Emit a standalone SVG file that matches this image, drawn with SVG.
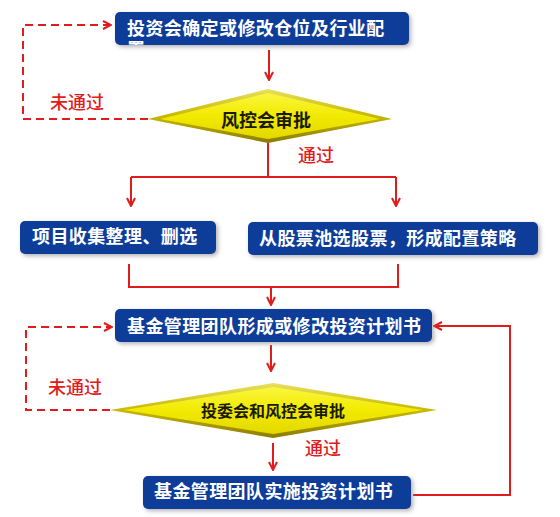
<svg xmlns="http://www.w3.org/2000/svg" width="560" height="517" viewBox="0 0 560 517">
<style>
.box{fill:#0a3c98;}
.bt{font-family:"Noto Sans CJK SC","Noto Sans",sans-serif;font-weight:bold;font-size:18px;fill:#ffffff;letter-spacing:0.4px;}
.dt{font-family:"Noto Sans CJK SC","Noto Sans",sans-serif;font-weight:bold;fill:#1a1a00;}
.lbl{font-family:"Noto Sans CJK SC","Noto Sans",sans-serif;font-weight:500;font-size:18px;fill:#e01c1c;}
.ln{fill:none;stroke:#e01c1c;stroke-width:2;}
.dash{stroke-dasharray:8 5;}
</style>
<defs>
<filter id="sh" x="-10%" y="-30%" width="120%" height="160%">
<feGaussianBlur in="SourceAlpha" stdDeviation="2"/>
<feOffset dx="2" dy="2" result="b"/>
<feFlood flood-color="#808080" flood-opacity="0.6"/>
<feComposite in2="b" operator="in"/>
<feMerge><feMergeNode/><feMergeNode in="SourceGraphic"/></feMerge>
</filter>
<linearGradient id="dg" x1="0" y1="0" x2="0" y2="1">
<stop offset="0" stop-color="#e8e060"/>
<stop offset="0.5" stop-color="#c8b800"/>
<stop offset="1" stop-color="#8a7a00"/>
</linearGradient>
<linearGradient id="dgi" x1="0" y1="0" x2="0" y2="1">
<stop offset="0" stop-color="#fbf640"/>
<stop offset="0.5" stop-color="#f2ea00"/>
<stop offset="1" stop-color="#e4d800"/>
</linearGradient>
<marker id="ah" viewBox="0 0 10 10" refX="9" refY="5" markerWidth="10" markerHeight="10" markerUnits="userSpaceOnUse" orient="auto">
<path d="M1,1 L9,5 L1,9" fill="none" stroke="#e01c1c" stroke-width="2"/>
</marker>
<clipPath id="c1"><rect x="115" y="12" width="294" height="33" rx="5"/></clipPath>
</defs>

<g id="connectors">
<path class="ln dash" d="M148,119 H23 V25 H111" marker-end="url(#ah)"/>
<path class="ln" d="M269,50 V80" marker-end="url(#ah)"/>
<path class="ln" d="M268,143 V177 M131,177 H396"/>
<path class="ln" d="M131,177 V206" marker-end="url(#ah)"/>
<path class="ln" d="M396,177 V206" marker-end="url(#ah)"/>
<path class="ln" d="M129,264 V287 H398 V264"/>
<path class="ln" d="M271,287 V305" marker-end="url(#ah)"/>
<path class="ln dash" d="M110,410 H26 V327 H112" marker-end="url(#ah)"/>
<path class="ln" d="M271,345 V371" marker-end="url(#ah)"/>
<path class="ln" d="M273,443 V470" marker-end="url(#ah)"/>
<path class="ln" d="M413,495 H510 V326 H434" marker-end="url(#ah)"/>
<text class="lbl" x="50" y="109">未通过</text>
<text class="lbl" x="298" y="162">通过</text>
<text class="lbl" x="48" y="394">未通过</text>
<text class="lbl" x="305" y="455">通过</text>
</g>

<g id="n1">
<rect class="box" x="115" y="12" width="294" height="33" rx="5" filter="url(#sh)"/>
<text class="bt" clip-path="url(#c1)" x="127" y="35">投资会确定或修改仓位及行业配<tspan x="127" y="56">置</tspan></text>
</g>

<g id="d1">
<polygon points="148,119 268,89 392,119 268,143" fill="url(#dg)"/>
<polygon points="160,119 268,93 380,119 268,139" fill="url(#dgi)"/>
<text class="dt" x="266" y="127" font-size="18" text-anchor="middle">风控会审批</text>
</g>

<g id="n2">
<rect class="box" x="20" y="221" width="196" height="33" rx="5" filter="url(#sh)"/>
<text class="bt" x="32" y="243">项目收集整理、删选</text>
</g>

<g id="n3">
<rect class="box" x="248" y="222" width="290" height="33" rx="5" filter="url(#sh)"/>
<text class="bt" x="259" y="245">从股票池选股票，形成配置策略</text>
</g>

<g id="n4">
<rect class="box" x="115" y="309" width="317" height="33" rx="5" filter="url(#sh)"/>
<text class="bt" x="127" y="333">基金管理团队形成或修改投资计划书</text>
</g>

<g id="d2">
<polygon points="110,410 273,383 437,410 273,438" fill="url(#dg)"/>
<polygon points="124,410 273,387 423,410 273,434" fill="url(#dgi)"/>
<text class="dt" x="273" y="417" font-size="16" text-anchor="middle">投委会和风控会审批</text>
</g>

<g id="n5">
<rect class="box" x="143" y="476" width="268" height="33" rx="5" filter="url(#sh)"/>
<text class="bt" x="154" y="498">基金管理团队实施投资计划书</text>
</g>
</svg>
